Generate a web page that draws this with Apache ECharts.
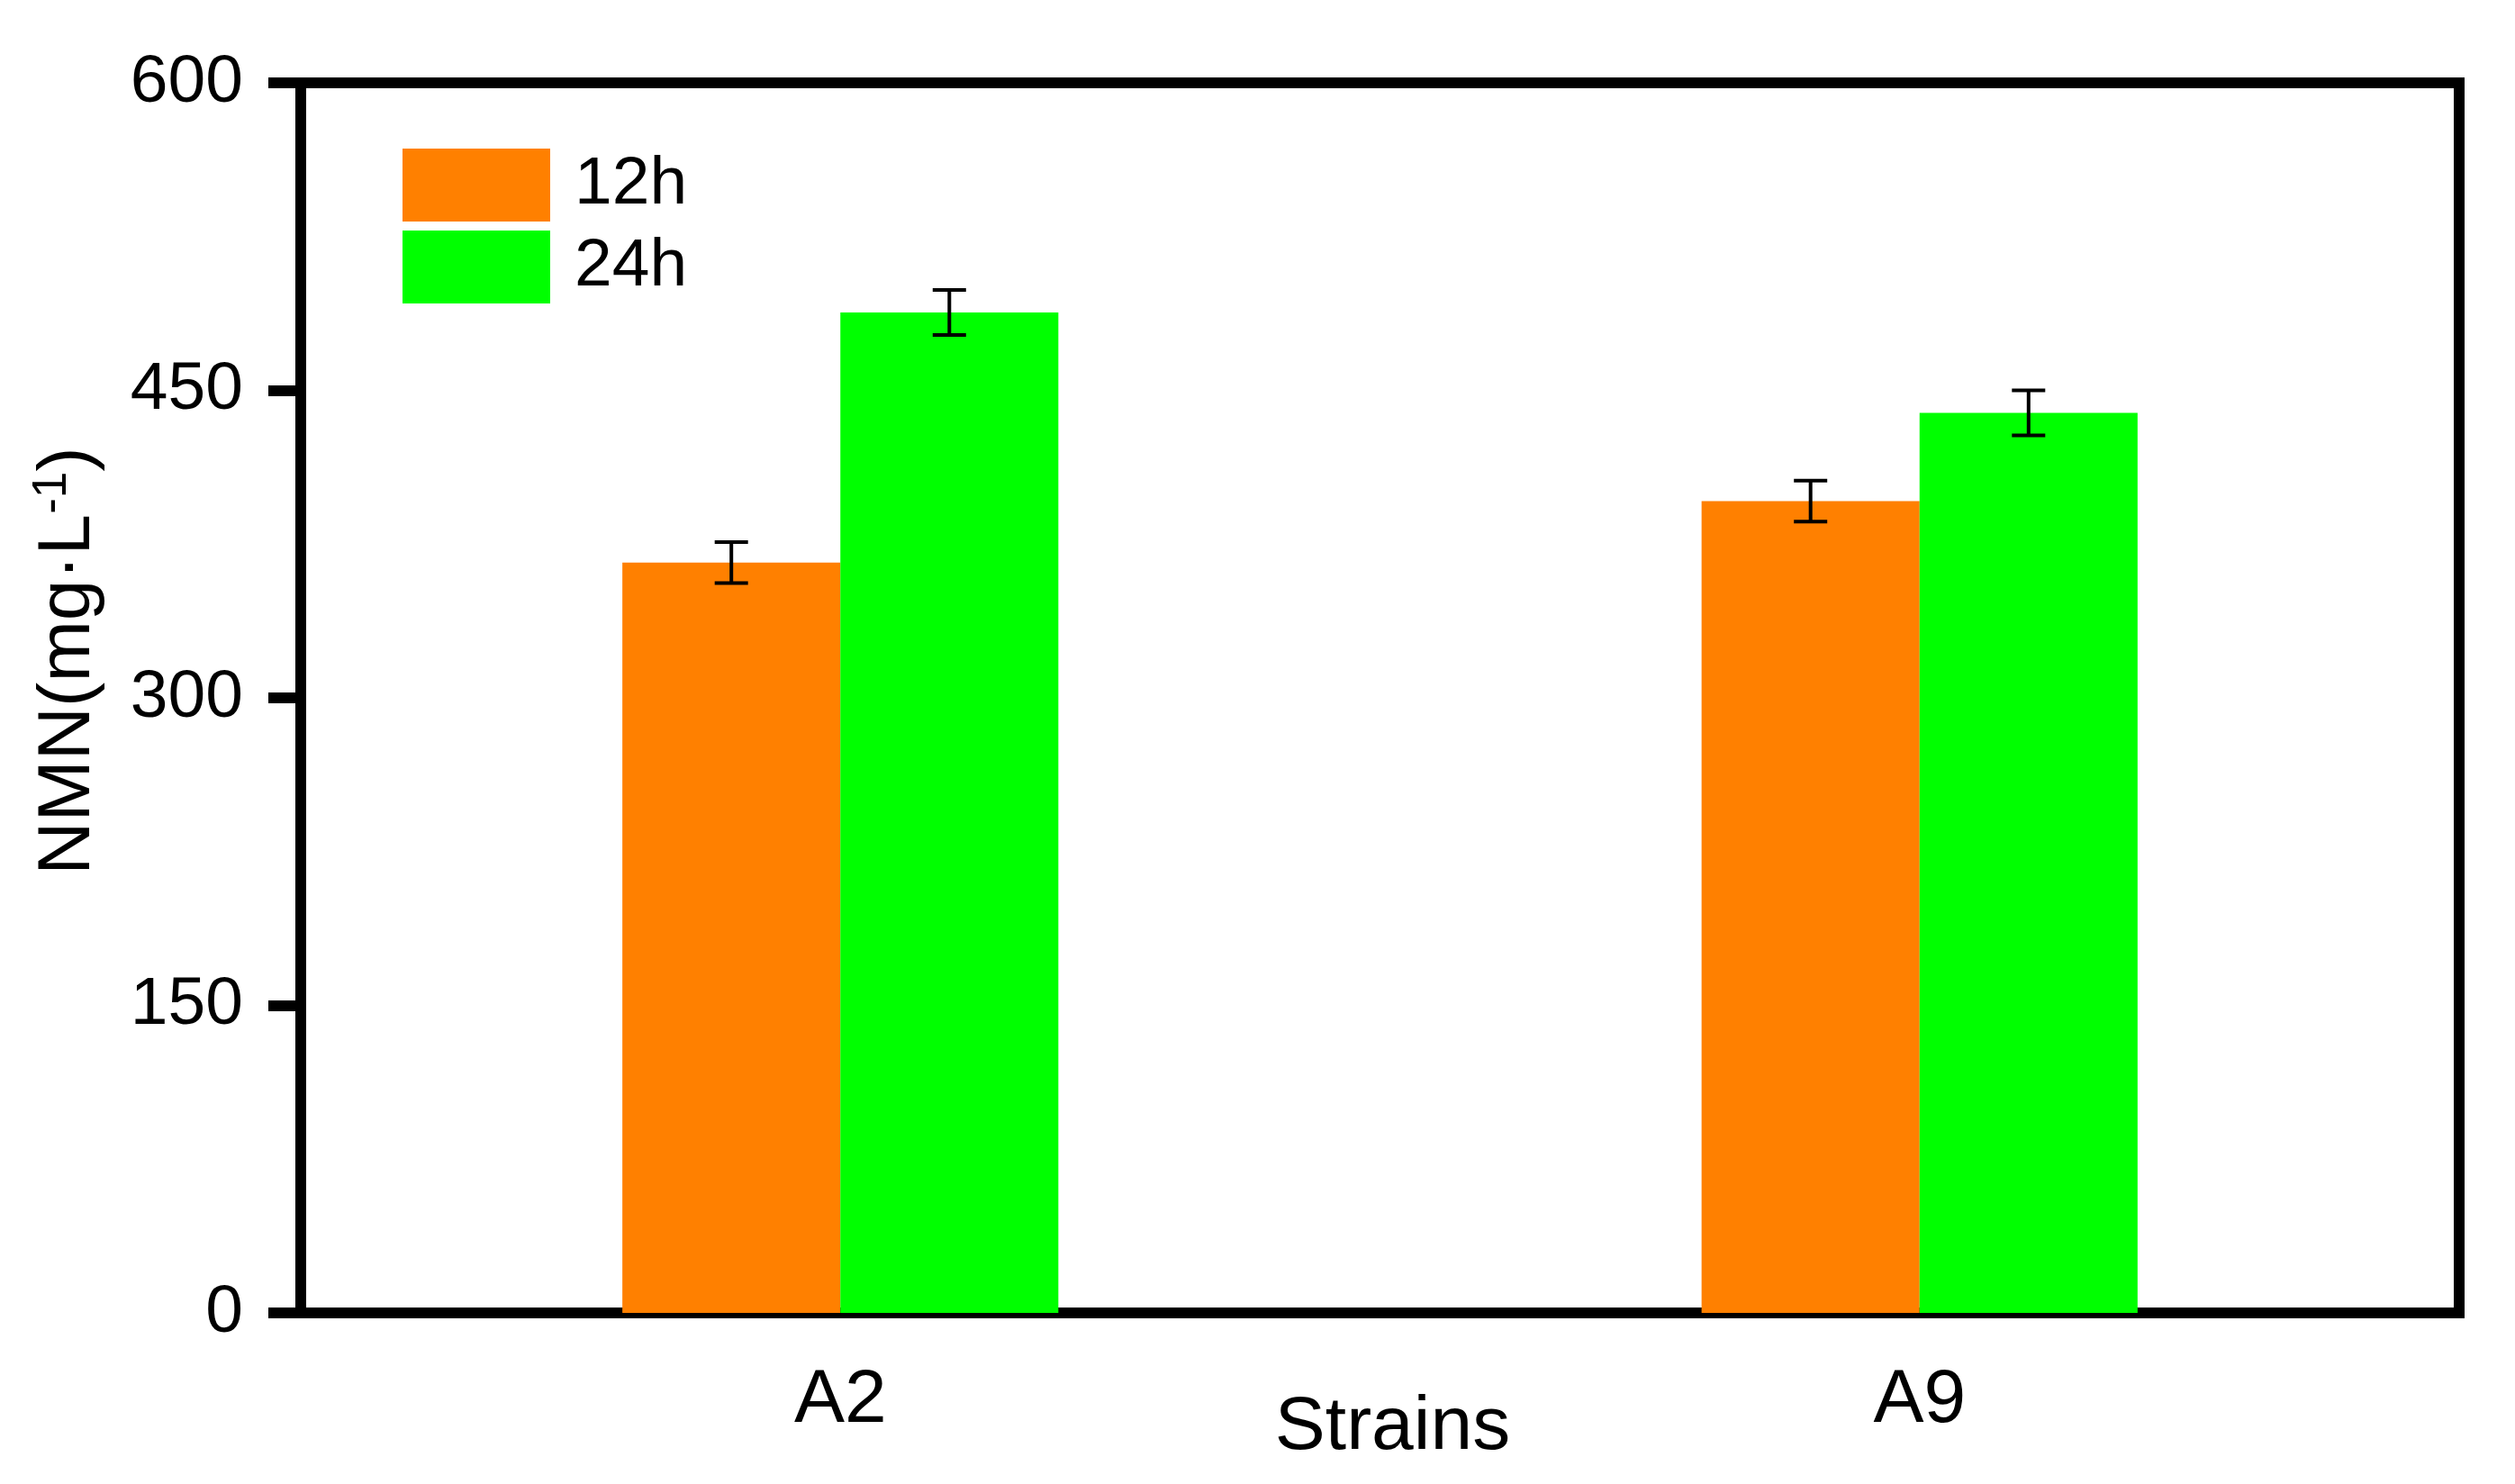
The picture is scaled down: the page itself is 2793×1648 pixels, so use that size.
<!DOCTYPE html>
<html>
<head>
<meta charset="utf-8">
<script src="https://cdn.jsdelivr.net/npm/echarts@6/dist/echarts.min.js"></script>
<style>
html,body{margin:0;padding:0;background:#fff;}
#chart{width:2793px;height:1648px;}
</style>
</head>
<body>
<div id="chart"></div>
<script>
// ---- data ----
const categories = ['A2', 'A9'];
const seriesNames = ['12h', '24h'];
const values12h = [366, 396];
const errors12h = [10, 10];
const values24h = [488, 439];
const errors24h = [11, 11];
const yTicks = [0, 150, 300, 450, 600];

const FONT = '"Liberation Sans", Arial, Helvetica, sans-serif';
const BAR_FRAC = 0.202;

function errorSeries(name, vals, errs, side) {
  return {
    type: 'custom',
    name: name + ' err',
    z: 10,
    silent: true,
    data: vals.map((v, i) => [i, v, errs[i]]),
    renderItem: function (params, api) {
      const cat = api.value(0), v = api.value(1), e = api.value(2);
      const bw = api.size([1, 0])[0] * BAR_FRAC;
      const x = api.coord([cat, v])[0] + side * bw / 2;
      const yHi = api.coord([cat, v + e])[1];
      const yLo = api.coord([cat, v - e])[1];
      const cap = 18.5;
      const st = { stroke: '#000', lineWidth: 4 };
      return {
        type: 'group',
        children: [
          { type: 'line', shape: { x1: x, y1: yHi, x2: x, y2: yLo }, style: st },
          { type: 'line', shape: { x1: x - cap, y1: yHi, x2: x + cap, y2: yHi }, style: st },
          { type: 'line', shape: { x1: x - cap, y1: yLo, x2: x + cap, y2: yLo }, style: st }
        ]
      };
    }
  };
}

const chart = echarts.init(document.getElementById('chart'), null, { renderer: 'canvas', devicePixelRatio: 1 });
chart.setOption({
  animation: false,
  backgroundColor: '#fff',
  textStyle: { fontFamily: FONT, color: '#000' },
  grid: {
    left: 334, top: 92, width: 2397, height: 1366,
    containLabel: false,
    outerBoundsMode: 'none',
    show: true, borderColor: '#000', borderWidth: 12, backgroundColor: 'transparent'
  },
  legend: {
    orient: 'vertical',
    left: 447, top: 165,
    padding: 0,
    itemWidth: 164, itemHeight: 81, itemGap: 10,
    icon: 'rect',
    data: seriesNames,
    textStyle: { fontSize: 75, fontFamily: FONT, color: '#000', padding: [0, 0, 0, 22] }
  },
  xAxis: {
    type: 'category',
    data: categories,
    name: 'Strains',
    nameLocation: 'middle',
    nameGap: 86,
    nameMoveOverlap: false,
    nameTextStyle: { fontSize: 84, fontFamily: FONT, color: '#000', padding: [0, 0, 0, 28] },
    axisLine: { lineStyle: { color: '#000', width: 12 } },
    axisTick: { alignWithLabel: true, length: 37, lineStyle: { color: '#000', width: 12 } },
    axisLabel: { fontSize: 84, fontFamily: FONT, color: '#000', margin: 56 },
    splitLine: { show: false }
  },
  yAxis: {
    type: 'value',
    min: yTicks[0], max: yTicks[yTicks.length - 1], interval: yTicks[1] - yTicks[0],
    name: 'NMN(mg·L{sup|-1})',
    nameLocation: 'middle',
    nameRotate: 90,
    nameGap: 214,
    nameMoveOverlap: false,
    nameTextStyle: {
      fontSize: 82, fontFamily: FONT, color: '#000', padding: [0, 0, 0, 82],
      rich: { sup: { fontSize: 53, fontFamily: FONT, color: '#000', verticalAlign: 'bottom', padding: [0, 0, 35, 0] } }
    },
    axisLine: { show: true, lineStyle: { color: '#000', width: 12 } },
    axisTick: { show: true, length: 36, lineStyle: { color: '#000', width: 12 } },
    axisLabel: { fontSize: 75, fontFamily: FONT, color: '#000', margin: 64 },
    splitLine: { show: false }
  },
  series: [
    { type: 'bar', name: seriesNames[0], data: values12h, barWidth: (BAR_FRAC * 100) + '%', barGap: '0%',
      itemStyle: { color: '#FF8000' } },
    { type: 'bar', name: seriesNames[1], data: values24h, barWidth: (BAR_FRAC * 100) + '%', barGap: '0%',
      itemStyle: { color: '#00FF00' } },
    errorSeries(seriesNames[0], values12h, errors12h, -1),
    errorSeries(seriesNames[1], values24h, errors24h, 1)
  ]
});
</script>
</body>
</html>
